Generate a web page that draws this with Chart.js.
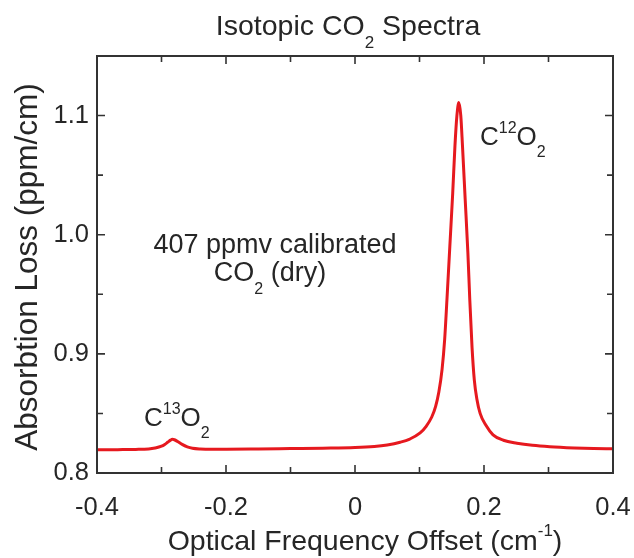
<!DOCTYPE html>
<html lang="en">
<head>
<meta charset="UTF-8">
<title>Isotopic CO2 Spectra</title>
<script src="https://cdn.jsdelivr.net/npm/chart.js@4.4.0/dist/chart.umd.min.js"></script>
<style>
  html, body { margin: 0; padding: 0; background: #fff; }
  #wrap { width: 634px; height: 558px; }
</style>
</head>
<body>
<div id="wrap"><canvas id="spectrum"></canvas></div>
<script>
// values
var freqOffset = [-0.400, -0.380, -0.360, -0.340, -0.320, -0.310, -0.300, -0.295, -0.290, -0.286,
  -0.283, -0.280, -0.275, -0.268, -0.260, -0.252, -0.240, -0.220, -0.200, -0.150,
  -0.100, -0.050, 0.000, 0.030, 0.050, 0.070, 0.085, 0.101, 0.110, 0.119,
  0.125, 0.130, 0.135, 0.139, 0.1425, 0.147, 0.1515, 0.155, 0.158, 0.161,
  0.164, 0.1666, 0.1708, 0.175, 0.178, 0.1815, 0.185, 0.189, 0.194, 0.203,
  0.214, 0.230, 0.251, 0.275, 0.302, 0.340, 0.370, 0.400];
var absLoss = [0.8195, 0.8195, 0.8197, 0.8198, 0.8202, 0.8210, 0.8225, 0.8240, 0.8260, 0.8276,
  0.8283, 0.8279, 0.8264, 0.8240, 0.8220, 0.8208, 0.8202, 0.8200, 0.8200, 0.8202,
  0.8205, 0.8208, 0.8213, 0.8222, 0.8235, 0.8258, 0.8285, 0.8336, 0.8390, 0.8470,
  0.8560, 0.8680, 0.8870, 0.9120, 0.9450, 0.9900, 1.0350, 1.0750, 1.1000, 1.1110,
  1.1000, 1.0750, 1.0300, 0.9850, 0.9450, 0.9050, 0.8780, 0.8620, 0.8500, 0.8400,
  0.8320, 0.8275, 0.8250, 0.8232, 0.8220, 0.8210, 0.8205, 0.8203];
var xTickLabels = ['-0.4', '-0.2', '0', '0.2', '0.4'];
var yTickLabels = ['0.8', '0.9', '1.0', '1.1'];

var points = freqOffset.map(function (x, i) { return { x: x, y: absLoss[i] }; });

var textColor = '#262626';
var fontFam = 'Arial, "Liberation Sans", sans-serif';

// draw text made of runs; each run is [text, 'sup'|'sub'|undefined]
function richText(ctx, runs, x, y, size, small, align) {
  var total = 0;
  runs.forEach(function (r) {
    ctx.font = (r[1] ? small : size) + 'px ' + fontFam;
    total += ctx.measureText(r[0]).width;
  });
  var cx = align === 'center' ? x - total / 2 : x;
  ctx.textBaseline = 'middle';
  ctx.textAlign = 'left';
  runs.forEach(function (r) {
    var dy = 0;
    if (r[1] === 'sup') dy = -size * 0.36;
    if (r[1] === 'sub') dy = size * 0.58;
    ctx.font = (r[1] ? small : size) + 'px ' + fontFam;
    ctx.fillText(r[0], cx, y + dy);
    cx += ctx.measureText(r[0]).width;
  });
}

var decor = {
  id: 'decor',
  afterDraw: function (chart) {
    var ctx = chart.ctx, a = chart.chartArea;
    var xs = chart.scales.x, ys = chart.scales.y;
    ctx.save();
    ctx.strokeStyle = '#333';
    ctx.lineWidth = 2;
    ctx.strokeRect(a.left, a.top, a.right - a.left, a.bottom - a.top);

    // inward ticks on all four sides
    ctx.lineWidth = 1.6;
    ctx.beginPath();
    for (var i = -4; i <= 4; i++) {
      var px = xs.getPixelForValue(i / 10);
      var len = (i % 2 === 0) ? 8 : 6;
      ctx.moveTo(px, a.bottom); ctx.lineTo(px, a.bottom - len);
      ctx.moveTo(px, a.top); ctx.lineTo(px, a.top + len);
    }
    for (var j = 0; j <= 6; j++) {
      var py = ys.getPixelForValue(0.8 + j * 0.05);
      var l2 = (j % 2 === 0) ? 8 : 6;
      ctx.moveTo(a.left, py); ctx.lineTo(a.left + l2, py);
      ctx.moveTo(a.right, py); ctx.lineTo(a.right - l2, py);
    }
    ctx.stroke();

    ctx.fillStyle = textColor;
    richText(ctx, [['Isotopic CO'], ['2', 'sub'], [' Spectra']], 348, 27, 28.5, 17, 'center');
    richText(ctx, [['Optical Frequency Offset (cm'], ['-1', 'sup'], [')']], 365, 542, 28.5, 17, 'center');

    ctx.save();
    ctx.translate(28, 267);
    ctx.rotate(-Math.PI / 2);
    richText(ctx, [['Absorbtion Loss (ppm/cm)']], 0, 0, 31.5, 18, 'center');
    ctx.restore();

    richText(ctx, [['C'], ['12', 'sup'], ['O'], ['2', 'sub']], 480, 138, 26, 16, 'left');
    richText(ctx, [['C'], ['13', 'sup'], ['O'], ['2', 'sub']], 144, 419, 26, 16, 'left');
    richText(ctx, [['407 ppmv calibrated']], 275, 246, 27, 16, 'center');
    richText(ctx, [['CO'], ['2', 'sub'], [' (dry)']], 270, 274, 27, 16, 'center');
    ctx.restore();
  }
};

new Chart(document.getElementById('spectrum'), {
  type: 'line',
  data: {
    datasets: [{
      data: points,
      borderColor: '#e6191f',
      borderWidth: 3,
      pointRadius: 0,
      cubicInterpolationMode: 'monotone',
      fill: false
    }]
  },
  options: {
    responsive: true,
    maintainAspectRatio: false,
    animation: false,
    layout: { padding: { top: 56, right: 21, left: 0, bottom: 0 } },
    plugins: { legend: { display: false }, tooltip: { enabled: false } },
    scales: {
      x: {
        type: 'linear',
        min: -0.4, max: 0.4,
        grid: { display: false, drawTicks: false },
        border: { display: false },
        afterFit: function (s) { s.height = 85; s.paddingLeft = 0; s.paddingRight = 0; },
        afterBuildTicks: function (s) {
          s.ticks = xTickLabels.map(function (t) { return { value: parseFloat(t) }; });
        },
        ticks: {
          autoSkip: false, maxRotation: 0, padding: 20,
          color: textColor, font: { family: fontFam, size: 25.5 },
          callback: function (v, i) { return xTickLabels[i]; }
        }
      },
      y: {
        min: 0.8, max: 1.15,
        grid: { display: false, drawTicks: false },
        border: { display: false },
        afterFit: function (s) { s.width = 97; s.paddingTop = 0; s.paddingBottom = 0; },
        afterBuildTicks: function (s) {
          s.ticks = yTickLabels.map(function (t) { return { value: parseFloat(t) }; });
        },
        ticks: {
          autoSkip: false, padding: 8,
          color: textColor, font: { family: fontFam, size: 25.5 },
          callback: function (v, i) { return yTickLabels[i]; }
        }
      }
    }
  },
  plugins: [decor]
});
</script>
</body>
</html>
